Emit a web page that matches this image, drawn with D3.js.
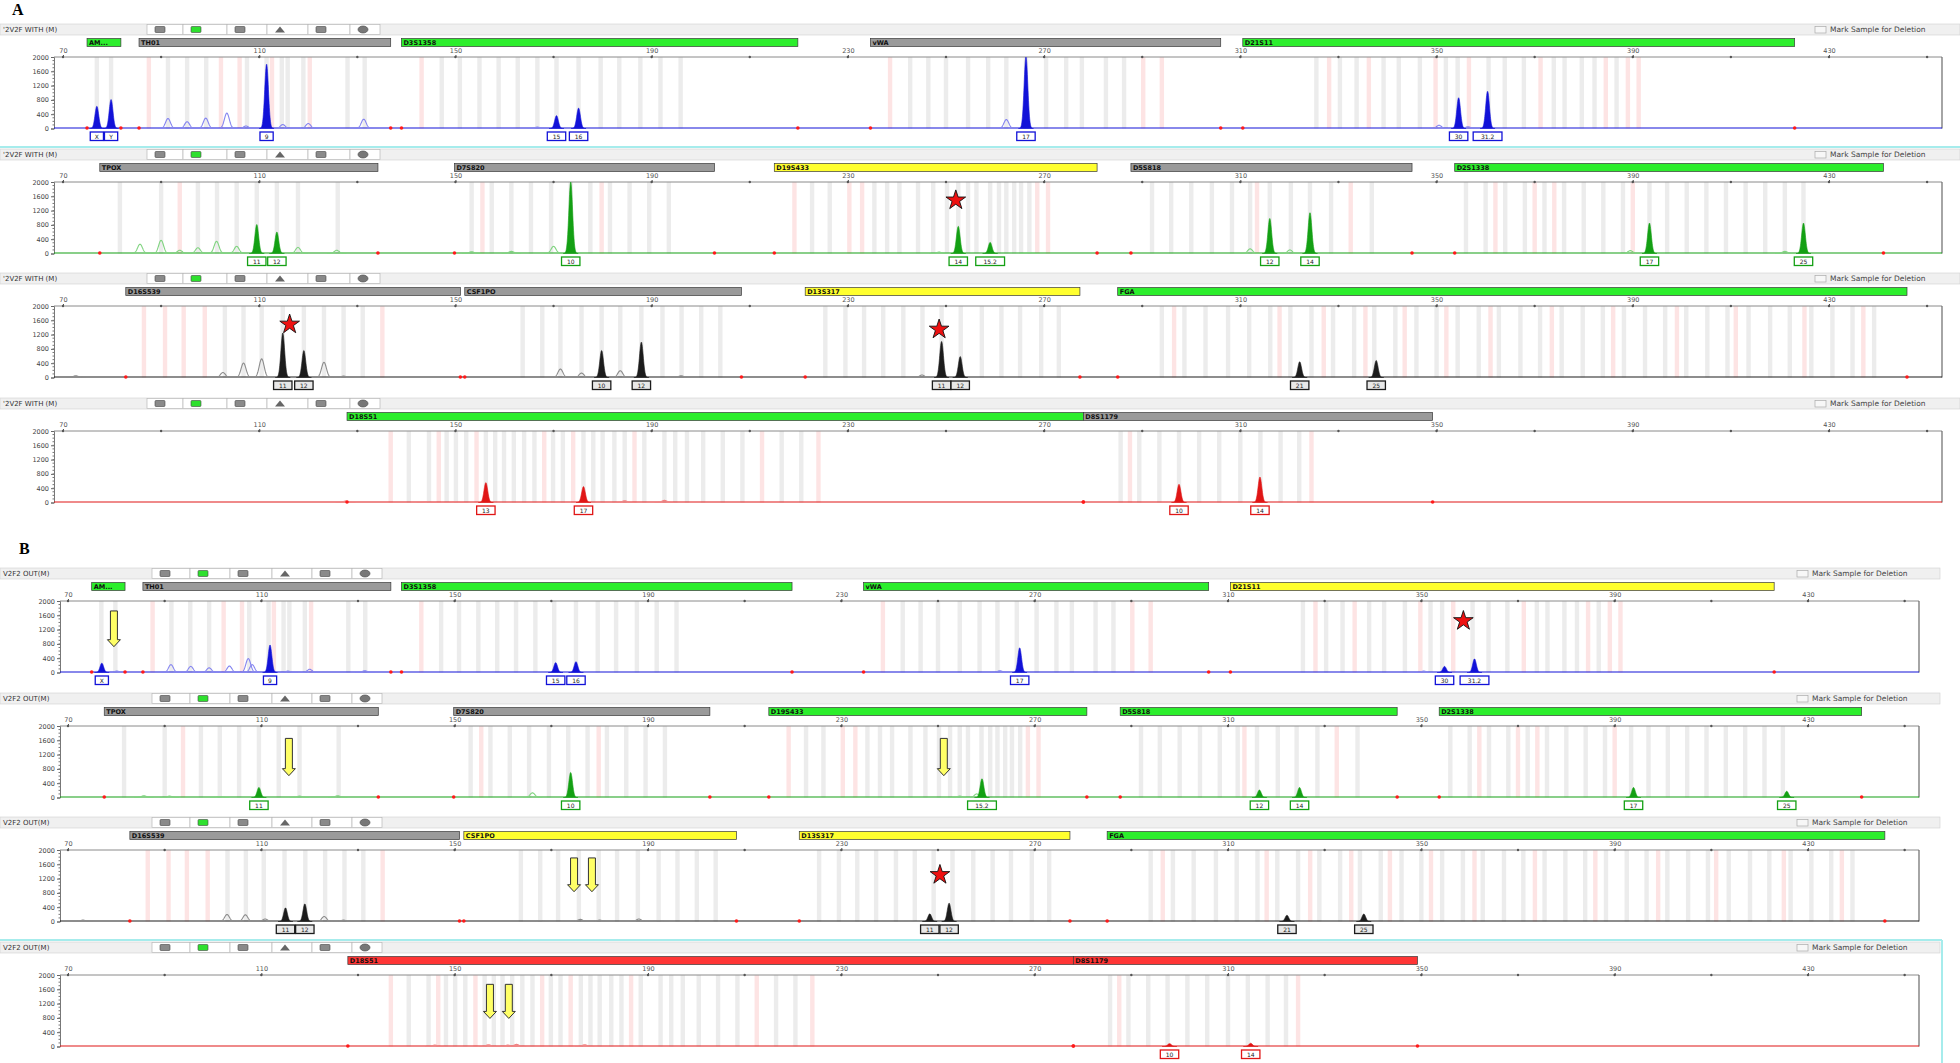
<!DOCTYPE html>
<html>
<head>
<meta charset="utf-8">
<script src="https://cdn.jsdelivr.net/npm/d3@7"></script>
<style>
body { margin: 0; background: #fff; }
svg { display: block; font-family: 'DejaVu Sans', Verdana, sans-serif; }
</style>
</head>
<body>
<div id="chart"></div>
<script>
// ---- data (base pairs / RFU) ----
var xMajor = [70, 110, 150, 190, 230, 270, 310, 350, 390, 430];
var xMinor = [90, 130, 170, 210, 250, 290, 330, 370, 410, 450];
var yMajor = [0, 400, 800, 1200, 1600, 2000];

// loci: [name, start bp, end bp, status]
var lociBlueA  = [['AM...', 74.9, 81.8, 'pass'], ['TH01', 85.5, 136.8, 'check'], ['D3S1358', 139, 219.8, 'pass'], ['vWA', 234.6, 306, 'check'], ['D21S11', 310.5, 423, 'pass']];
var lociGreenA = [['TPOX', 77.5, 134.2, 'check'], ['D7S820', 149.8, 202.8, 'check'], ['D19S433', 215, 280.8, 'warn'], ['D5S818', 287.7, 345, 'check'], ['D2S1338', 353.7, 441.1, 'pass']];
var lociBlackA = [['D16S539', 82.8, 151, 'check'], ['CSF1PO', 151.9, 208.3, 'check'], ['D13S317', 221.3, 277.3, 'warn'], ['FGA', 285, 445.9, 'pass']];
var lociRedA   = [['D18S51', 127.9, 278, 'pass'], ['D8S1179', 278, 349.2, 'check']];
var lociBlueB  = [['AM...', 74.9, 81.8, 'pass'], ['TH01', 85.5, 136.8, 'check'], ['D3S1358', 139, 219.8, 'pass'], ['vWA', 234.6, 306, 'pass'], ['D21S11', 310.5, 423, 'warn']];
var lociGreenB = [['TPOX', 77.5, 134.2, 'check'], ['D7S820', 149.8, 202.8, 'check'], ['D19S433', 215, 280.8, 'pass'], ['D5S818', 287.7, 345, 'pass'], ['D2S1338', 353.7, 441.1, 'pass']];
var lociBlackB = [['D16S539', 82.8, 151, 'check'], ['CSF1PO', 151.9, 208.3, 'warn'], ['D13S317', 221.3, 277.3, 'warn'], ['FGA', 285, 445.9, 'pass']];
var lociRedB   = [['D18S51', 127.9, 278, 'fail'], ['D8S1179', 278, 349.2, 'fail']];

// allele bins (bp)
var binsBlueGray  = [76.9, 79.8, 91.4, 95.3, 99.2, 107.5, 111.5, 114.6, 115.8, 119, 128, 131.5, 147.2, 150.9, 154.9, 158.8, 162.7, 166.7, 170.6, 175.1, 179.6, 183.4, 187.7, 191.8, 195.9, 242.7, 246.4, 250, 254.5, 258.6, 262.3, 266.3, 270.4, 274.5, 277.7, 282.6, 286.3, 325.5, 330.3, 333.7, 339.2, 342.3, 346.6, 351.9, 354.3, 360.6, 363.9, 367.8, 373.9, 376.1, 379.6, 382.2, 386.7];
var binsBluePink  = [87.5, 102.2, 106, 112.6, 120.3, 143.1, 238.6, 290.2, 294, 328.1, 336.2, 349.8, 356.6, 371.2, 384.5, 389, 391.2];
var binsGreenGray = [81.6, 90, 97.5, 101.4, 105.4, 109.5, 113.6, 117.9, 126, 153.3, 157.4, 161.4, 165.4, 169.5, 173.5, 177.5, 181.5, 185.5, 189.5, 193.5, 222.7, 226.3, 235.4, 238, 240.5, 244.3, 247.4, 250.2, 252.5, 254.5, 256.2, 259, 260.8, 262.3, 263.9, 265.3, 267, 292, 295.9, 300, 304.2, 308.3, 312, 316, 320.3, 324.2, 328.5, 336.8, 356, 360, 364, 368, 372, 376, 380, 384, 388, 393.4, 397, 401, 405, 409, 413, 417, 421, 424.8];
var binsGreenPink = [93.8, 155.5, 179.8, 219.1, 230.3, 232.9, 268.6, 270.8, 313.4, 332.5, 362, 370, 374, 390];
var binsBlackGray = [103, 106.8, 110.5, 114.8, 119.1, 123.2, 127.2, 131.1, 163.7, 167.7, 171.4, 175.7, 179.8, 183.6, 187.9, 192.2, 196.1, 200.1, 204, 225.4, 229.5, 233.3, 237.2, 241.3, 245.2, 249.1, 253, 257.3, 261.3, 265.1, 269.4, 273, 294, 298.6, 302.9, 307.5, 311.8, 316.1, 320.2, 324.5, 328.9, 333.2, 337.3, 341.6, 345.9, 350, 354.3, 358.6, 362.7, 367.1, 371.1, 375.5, 379.8, 383.9, 388.2, 392.5, 396.6, 400.9, 405.2, 409.3, 413.6, 418, 422, 426.4, 430.7, 434.8, 439.2];
var binsBlackPink = [86.5, 90.8, 94.6, 98.9, 135.1, 296.5, 318, 327, 335.5, 343.5, 352, 361, 373.5, 386, 399, 411, 425, 437];
var binsRedGray   = [140.5, 144.6, 148.2, 150.1, 152.2, 156.2, 158.1, 159.9, 161.9, 164, 166.1, 169.9, 171.9, 176.1, 178.1, 180, 182.4, 184.5, 188.5, 192.6, 194.8, 197.2, 200.5, 204.5, 208.5, 216.5, 220.5, 285.6, 289.4, 293.5, 297.5, 301.6, 305.7, 310, 314.1, 318.2, 322];
var binsRedPink   = [136.8, 146.6, 154.3, 168.1, 174, 186.5, 212.5, 224, 287.5, 324.5];

// peaks: [bp, RFU, allele call ('' = not called)]
var peaksA1 = [[76.9, 620, 'X'], [79.8, 810, 'Y'], [91.4, 280, ''], [95.3, 190, ''], [99.1, 290, ''], [103.4, 430, ''], [107.3, 70, ''], [111.5, 1800, '9'], [114.8, 110, ''], [120, 140, ''], [131.3, 260, ''], [166.7, 40, ''], [170.6, 360, '15'], [175.1, 570, '16'], [262.3, 250, ''], [266.3, 2000, '17'], [350.5, 90, ''], [354.5, 860, '30'], [356.4, 50, ''], [360.4, 1040, '31.2']];
var peaksA2 = [[85.7, 260, ''], [90, 370, ''], [93.8, 90, ''], [97.5, 160, ''], [101.3, 340, ''], [105.4, 200, ''], [109.5, 810, '11'], [113.6, 600, '12'], [117.9, 170, ''], [125.8, 90, ''], [153.3, 50, ''], [161.4, 60, ''], [170, 200, ''], [173.5, 2000, '10'], [248.6, 40, ''], [252.5, 760, '14'], [259, 310, '15.2'], [267, 30, ''], [312, 130, ''], [316, 980, '12'], [320.1, 100, ''], [324.2, 1140, '14'], [389.5, 80, ''], [393.4, 850, '17'], [421, 60, ''], [424.8, 850, '25']];
var peaksA3 = [[72.6, 50, ''], [102.6, 140, ''], [106.8, 405, ''], [110.5, 520, ''], [114.8, 1245, '11'], [119.1, 755, '12'], [123.2, 425, ''], [127.2, 40, ''], [171.4, 236, ''], [175.7, 123, ''], [179.8, 755, '10'], [183.6, 189, ''], [187.9, 990, '12'], [196, 50, ''], [245.1, 70, ''], [249.1, 1010, '11'], [252.9, 585, '12'], [322.1, 440, '21'], [337.7, 475, '25']];
var peaksA4 = [[127.6, 40, ''], [144.1, 30, ''], [149.8, 30, ''], [156.2, 555, '13'], [176.1, 445, '17'], [184.5, 50, ''], [192.6, 60, ''], [297.5, 508, '10'], [314, 712, '14']];
var peaksB1 = [[77, 260, 'X'], [80.1, 40, ''], [91.3, 220, ''], [95.4, 170, ''], [99.2, 130, ''], [103.4, 180, ''], [107.3, 390, ''], [108.1, 220, ''], [111.8, 770, '9'], [115.5, 40, ''], [120, 90, ''], [131.4, 50, ''], [170.9, 275, '15'], [175.1, 300, '16'], [262.8, 50, ''], [266.9, 690, '17'], [350.5, 40, ''], [354.8, 170, '30'], [361, 380, '31.2']];
var peaksB2 = [[85.7, 50, ''], [91, 40, ''], [101.4, 30, ''], [109.5, 280, '11'], [117.9, 40, ''], [125.8, 50, ''], [166.1, 130, ''], [174, 700, '10'], [254.5, 40, ''], [258, 100, ''], [259.1, 525, '15.2'], [316.5, 210, '12'], [324.8, 280, '14'], [393.9, 280, '17'], [425.6, 175, '25']];
var peaksB3 = [[73.1, 40, ''], [102.9, 195, ''], [106.7, 186, ''], [110.8, 70, ''], [115, 381, '11'], [119, 493, '12'], [123, 140, ''], [127, 40, ''], [167.6, 30, ''], [176, 60, ''], [180, 40, ''], [188.1, 70, ''], [192.2, 30, ''], [244.2, 30, ''], [248.3, 214, '11'], [252.3, 512, '12'], [322.2, 175, '21'], [338.1, 210, '25']];
var peaksB4 = [[145.9, 40, ''], [157, 50, ''], [161, 40, ''], [162.8, 60, ''], [176.9, 50, ''], [297.9, 80, '10'], [314.7, 90, '14']];

// annotations: stars [bp, RFU], arrows [bp, top RFU, tip RFU]
var starsA2 = [[252.0, 1490]];
var starsA3 = [[116.2, 1487], [248.6, 1346]];
var starsB1 = [[358.7, 1444]];
var starsB3 = [[250.4, 1306]];
var arrowsB1 = [[79.5, 1722, 722]];
var arrowsB2 = [[115.7, 1653, 611], [251.2, 1653, 611]];
var arrowsB3 = [[174.7, 1778, 833], [178.4, 1778, 833]];
var arrowsB4 = [[157.3, 1739, 785], [161.2, 1739, 785]];

// ---- styles and layout ----
var dyeColor = {blue: '#1212d8', green: '#14a014', black: '#1c1c1c', red: '#e01616'};
var dyeLight = {blue: '#8585f0', green: '#80d480', black: '#8c8c8c', red: '#f08585'};
var statusColor = {pass: '#2cee2c', check: '#9a9a9a', warn: '#ffff2e', fail: '#ff3535'};

var layout = {
    A: {tops: [24, 149, 273, 398], x0: 63, x1: 1829, left: 54, right: 1942, hdrRight: 1960,
        headText: "'2V2F WITH (M)", btnX: [147, 183, 227, 267, 308, 350, 380], chkX: 1815},
    B: {tops: [568, 693, 817, 942], x0: 68, x1: 1808, left: 60, right: 1919, hdrRight: 1940,
        headText: 'V2F2  OUT(M)', btnX: [152, 190, 230, 272, 312, 352, 382], chkX: 1797}
};

var panels = [
    {sec: 'A', row: 0, dye: 'blue',  loci: lociBlueA,  peaks: peaksA1, gray: binsBlueGray,  pink: binsBluePink,  stars: [], arrows: []},
    {sec: 'A', row: 1, dye: 'green', loci: lociGreenA, peaks: peaksA2, gray: binsGreenGray, pink: binsGreenPink, stars: starsA2, arrows: []},
    {sec: 'A', row: 2, dye: 'black', loci: lociBlackA, peaks: peaksA3, gray: binsBlackGray, pink: binsBlackPink, stars: starsA3, arrows: []},
    {sec: 'A', row: 3, dye: 'red',   loci: lociRedA,   peaks: peaksA4, gray: binsRedGray,   pink: binsRedPink,   stars: [], arrows: []},
    {sec: 'B', row: 0, dye: 'blue',  loci: lociBlueB,  peaks: peaksB1, gray: binsBlueGray,  pink: binsBluePink,  stars: starsB1, arrows: arrowsB1},
    {sec: 'B', row: 1, dye: 'green', loci: lociGreenB, peaks: peaksB2, gray: binsGreenGray, pink: binsGreenPink, stars: [], arrows: arrowsB2},
    {sec: 'B', row: 2, dye: 'black', loci: lociBlackB, peaks: peaksB3, gray: binsBlackGray, pink: binsBlackPink, stars: starsB3, arrows: arrowsB3},
    {sec: 'B', row: 3, dye: 'red',   loci: lociRedB,   peaks: peaksB4, gray: binsRedGray,   pink: binsRedPink,   stars: [], arrows: arrowsB4}
];

var svg = d3.select('#chart').append('svg')
    .attr('width', 1960)
    .attr('height', 1063);
svg.append('rect').attr('width', 1960).attr('height', 1063).attr('fill', '#fff');

svg.append('text').attr('x', 12).attr('y', 15)
    .attr('font-family', 'Liberation Serif, serif').attr('font-weight', 'bold').attr('font-size', 16)
    .text('A');
svg.append('text').attr('x', 19).attr('y', 554)
    .attr('font-family', 'Liberation Serif, serif').attr('font-weight', 'bold').attr('font-size', 16)
    .text('B');

function drawHeader(g, L, top) {
    g.append('rect').attr('x', 0).attr('y', top).attr('width', L.hdrRight).attr('height', 11)
        .attr('fill', '#f0f0f0').attr('stroke', '#cfcfcf').attr('stroke-width', 0.6);
    g.append('text').attr('x', 3).attr('y', top + 8).attr('font-size', 7).attr('fill', '#333')
        .text(L.headText);
    // tool buttons
    var icons = ['box', 'green', 'box', 'tri', 'box', 'disc'];
    icons.forEach(function(ic, i) {
        var bx = L.btnX[i], bw = L.btnX[i + 1] - bx;
        g.append('rect').attr('x', bx).attr('y', top + 0.5).attr('width', bw).attr('height', 10)
            .attr('fill', '#fff').attr('stroke', '#b8b8b8').attr('stroke-width', 0.7);
        var cx = bx + 13, cy = top + 5.5;
        if (ic === 'tri') {
            g.append('path').attr('d', 'M' + (cx - 5) + ',' + (cy + 3) + 'L' + cx + ',' + (cy - 3) + 'L' + (cx + 5) + ',' + (cy + 3) + 'Z')
                .attr('fill', '#666');
        } else if (ic === 'disc') {
            g.append('ellipse').attr('cx', cx).attr('cy', cy).attr('rx', 5).attr('ry', 3.5)
                .attr('fill', '#777').attr('stroke', '#444').attr('stroke-width', 0.6);
        } else {
            g.append('rect').attr('x', cx - 5).attr('y', cy - 3).attr('width', 10).attr('height', 6).attr('rx', 1)
                .attr('fill', ic === 'green' ? '#2ee02e' : '#8a8a8a').attr('stroke', '#444').attr('stroke-width', 0.6);
        }
    });
    g.append('rect').attr('x', L.chkX).attr('y', top + 2.5).attr('width', 11).attr('height', 6.5)
        .attr('fill', '#f7f7f7').attr('stroke', '#aaa').attr('stroke-width', 0.7);
    g.append('text').attr('x', L.chkX + 15).attr('y', top + 8).attr('font-size', 7.5).attr('fill', '#444')
        .text('Mark Sample for Deletion');
}

function drawPanel(p) {
    var L = layout[p.sec], top = L.tops[p.row];
    var x = d3.scaleLinear().domain([70, 430]).range([L.x0, L.x1]);
    var y = d3.scaleLinear().domain([0, 2000]).range([top + 104.5, top + 33]);
    var plotTop = y(2000), base = y(0);
    var col = dyeColor[p.dye], light = dyeLight[p.dye];
    var g = svg.append('g');

    drawHeader(g, L, top);

    // locus bars
    var lg = g.selectAll('.locus').data(p.loci).enter().append('g').attr('class', 'locus');
    lg.append('rect')
        .attr('x', function(d) { return x(d[1]); })
        .attr('y', top + 14.5)
        .attr('width', function(d) { return x(d[2]) - x(d[1]); })
        .attr('height', 8)
        .attr('fill', function(d) { return statusColor[d[3]]; })
        .attr('stroke', '#3a3a3a').attr('stroke-width', 0.7);
    lg.append('text')
        .attr('x', function(d) { return x(d[1]) + 2; })
        .attr('y', top + 21)
        .attr('font-size', 6.5).attr('font-weight', 'bold').attr('fill', '#111')
        .text(function(d) { return d[0]; });

    // bins
    g.selectAll('.bin-g').data(p.gray).enter().append('rect').attr('class', 'bin-g')
        .attr('x', function(d) { return x(d) - 2.2; }).attr('width', 4.4)
        .attr('y', plotTop).attr('height', base - plotTop).attr('fill', '#ececec');
    g.selectAll('.bin-p').data(p.pink).enter().append('rect').attr('class', 'bin-p')
        .attr('x', function(d) { return x(d) - 2.2; }).attr('width', 4.4)
        .attr('y', plotTop).attr('height', base - plotTop).attr('fill', '#fde4e4');

    // top size axis
    g.append('line').attr('x1', L.left).attr('x2', L.right).attr('y1', plotTop).attr('y2', plotTop)
        .attr('stroke', '#8a8a8a').attr('stroke-width', 1);
    var ax = g.append('g').attr('transform', 'translate(0,' + plotTop + ')')
        .call(d3.axisTop(x).tickValues(xMajor).tickSize(2).tickPadding(2).tickFormat(d3.format('d')));
    ax.select('.domain').remove();
    ax.selectAll('line').attr('stroke', '#555');
    ax.selectAll('text').attr('font-size', 6.5).attr('fill', '#555').attr('font-family', 'DejaVu Sans, sans-serif');
    g.selectAll('.xdot').data(xMajor.concat(xMinor)).enter().append('circle').attr('class', 'xdot')
        .attr('cx', function(d) { return x(d); }).attr('cy', plotTop).attr('r', 1.2).attr('fill', '#555');

    // RFU axis
    var ay = g.append('g').attr('transform', 'translate(' + L.left + ',0)')
        .call(d3.axisLeft(y).tickValues(yMajor).tickSize(3).tickPadding(2).tickFormat(d3.format('d')));
    ay.select('.domain').attr('stroke', '#777');
    ay.selectAll('line').attr('stroke', '#666');
    ay.selectAll('text').attr('font-size', 6.5).attr('fill', '#444').attr('font-family', 'DejaVu Sans, sans-serif');
    g.selectAll('.ymin').data(d3.range(100, 2000, 100)).enter().append('line').attr('class', 'ymin')
        .attr('x1', L.left - 1.5).attr('x2', L.left)
        .attr('y1', function(d) { return y(d); }).attr('y2', function(d) { return y(d); })
        .attr('stroke', '#777');

    // right frame
    g.append('line').attr('x1', L.right).attr('x2', L.right).attr('y1', plotTop).attr('y2', base)
        .attr('stroke', '#6a6a6a').attr('stroke-width', 1.2);

    // trace baseline
    g.append('line').attr('x1', L.left).attr('x2', L.right).attr('y1', base - 0.5).attr('y2', base - 0.5)
        .attr('stroke', col).attr('stroke-width', 1.2);

    // peaks
    function shape(pk, sigma) {
        var h = Math.min(pk[1], 2000);
        return d3.range(-4 * sigma, 4 * sigma + 1e-6, sigma / 8).map(function(d) {
            return [pk[0] + d, h * Math.exp(-d * d / (2 * sigma * sigma))];
        });
    }
    var line = d3.line().x(function(d) { return x(d[0]); }).y(function(d) { return y(d[1]); });
    var area = d3.area().x(function(d) { return x(d[0]); }).y0(base).y1(function(d) { return y(d[1]); });

    var other = p.peaks.filter(function(d) { return d[2] === ''; });
    var called = p.peaks.filter(function(d) { return d[2] !== ''; });
    g.selectAll('.pk-o').data(other).enter().append('path').attr('class', 'pk-o')
        .attr('d', function(d) { return line(shape(d, 0.5)); })
        .attr('fill', 'none').attr('stroke', light).attr('stroke-width', 1.1);
    g.selectAll('.pk-c').data(called).enter().append('path').attr('class', 'pk-c')
        .attr('d', function(d) { return area(shape(d, 0.38)); })
        .attr('fill', col).attr('stroke', col).attr('stroke-width', 0.6);

    // locus boundary marks
    var edges = [];
    p.loci.forEach(function(d) { edges.push(d[1], d[2]); });
    g.selectAll('.edge').data(edges).enter().append('circle').attr('class', 'edge')
        .attr('cx', function(d) { return x(d); }).attr('cy', base - 0.5).attr('r', 1.8).attr('fill', '#ff1a1a');

    // allele call boxes
    var cg = g.selectAll('.call').data(called).enter().append('g').attr('class', 'call');
    cg.append('rect')
        .attr('x', function(d) { return x(d[0]) - (4 + 2.6 * d[2].length); })
        .attr('y', top + 108)
        .attr('width', function(d) { return 8 + 5.2 * d[2].length; })
        .attr('height', 8.5)
        .attr('fill', p.dye === 'black' ? '#e8e8e8' : '#fff')
        .attr('stroke', col).attr('stroke-width', 1.3);
    cg.append('text')
        .attr('x', function(d) { return x(d[0]); })
        .attr('y', top + 114.7)
        .attr('text-anchor', 'middle').attr('font-size', 6).attr('fill', '#222')
        .text(function(d) { return d[2]; });

    // stars
    g.selectAll('.star').data(p.stars).enter().append('path').attr('class', 'star')
        .attr('transform', function(d) { return 'translate(' + x(d[0]) + ',' + y(d[1]) + ')'; })
        .attr('d', d3.symbol().type(d3.symbolStar).size(120))
        .attr('fill', '#ee1111').attr('stroke', '#111').attr('stroke-width', 0.9);

    // arrows
    g.selectAll('.arrow').data(p.arrows).enter().append('path').attr('class', 'arrow')
        .attr('d', function(d) {
            var cx = x(d[0]), y1 = y(d[1]), y2 = y(d[2]), hy = y2 - 7;
            return 'M' + (cx - 3.5) + ',' + y1 + 'L' + (cx + 3.5) + ',' + y1 + 'L' + (cx + 3.5) + ',' + hy +
                'L' + (cx + 6.5) + ',' + hy + 'L' + cx + ',' + y2 + 'L' + (cx - 6.5) + ',' + hy +
                'L' + (cx - 3.5) + ',' + hy + 'Z';
        })
        .attr('fill', '#ffff66').attr('stroke', '#333').attr('stroke-width', 1);
}

panels.forEach(drawPanel);

// selection highlights
svg.append('line').attr('x1', 0).attr('x2', 1960).attr('y1', 147).attr('y2', 147)
    .attr('stroke', '#a6ecec').attr('stroke-width', 2);
svg.append('line').attr('x1', 0).attr('x2', 1942).attr('y1', 940).attr('y2', 940)
    .attr('stroke', '#a6ecec').attr('stroke-width', 2);
svg.append('line').attr('x1', 1942).attr('x2', 1942).attr('y1', 940).attr('y2', 1063)
    .attr('stroke', '#a6ecec').attr('stroke-width', 2);
</script>
</body>
</html>
